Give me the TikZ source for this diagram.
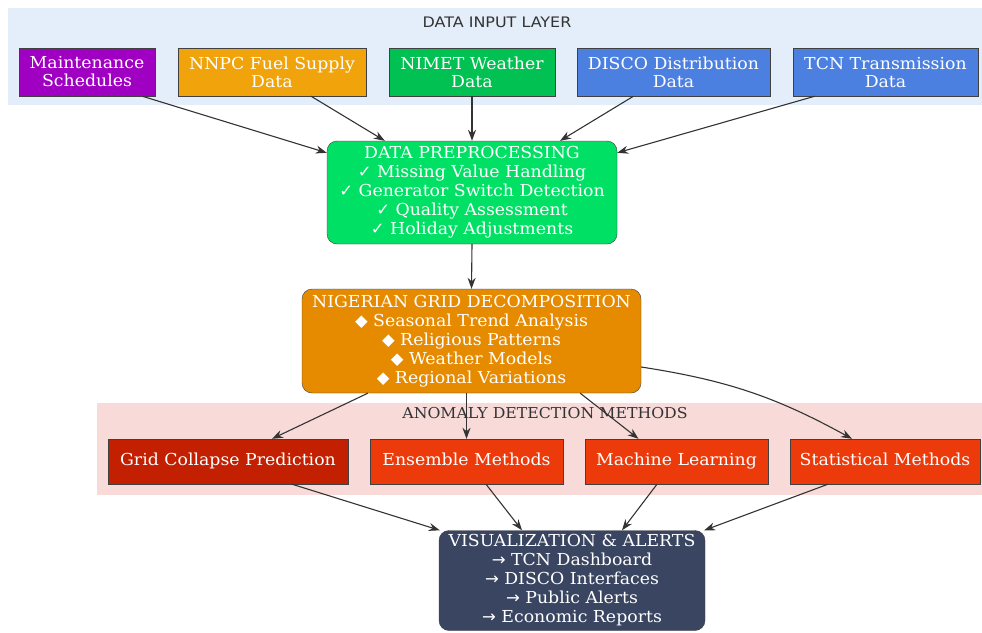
\documentclass[tikz,border=0pt]{standalone}
\usepackage{fontspec}
\setmainfont{DejaVu Serif}[FakeStretch=1.05]
\newfontfamily\symfont{DejaVu Sans}
\newfontfamily\titlefont{DejaVu Sans}[FakeStretch=1.1]
\usetikzlibrary{arrows.meta}
\definecolor{layerblue}{HTML}{E4EEFA}
\definecolor{layerpink}{HTML}{F8DAD8}
\definecolor{maintpurple}{HTML}{A000C2}
\definecolor{fuelorange}{HTML}{F0A30A}
\definecolor{weathergreen}{HTML}{00C152}
\definecolor{gridblue}{HTML}{4C80E0}
\definecolor{prepgreen}{HTML}{00E064}
\definecolor{decomporange}{HTML}{E68A00}
\definecolor{collapsered}{HTML}{C22000}
\definecolor{methodred}{HTML}{EC3A0A}
\definecolor{alertslate}{HTML}{3A4562}
\tikzset{
  src box/.style={draw=black!75, text=white, align=center, inner sep=0pt,
    minimum height=48pt, font=\fontsize{16.5}{18}\selectfont},
  stage box/.style={draw=black!75, text=white, align=center, inner sep=0pt,
    rounded corners=10pt, font=\fontsize{16.5}{19}\selectfont},
  method box/.style={draw=black!75, text=white, align=center, inner sep=0pt,
    minimum height=45pt, text height=12pt, text depth=4pt, font=\fontsize{16.5}{18}\selectfont},
  flow/.style={draw=black!80, line width=1.1pt, -{Stealth[length=11pt,width=8pt]}}
}

\begin{document}
\begin{tikzpicture}[x=1pt, y=-1pt]
\useasboundingbox (0,0) rectangle (982,632);

%layers
\fill[layerblue] (8,8) rectangle (982,105);
\node[font=\titlefont\fontsize{14.5}{16}\selectfont, text=black!80] (inputtitle) at (497,22) {DATA INPUT LAYER};
\fill[layerpink] (97,403) rectangle (982,495);

%data sources
\node[src box, fill=maintpurple, minimum width=136pt] (maint) at (87,72) {Maintenance\\Schedules};
\node[src box, fill=fuelorange, minimum width=188pt] (nnpc) at (272,72) {NNPC Fuel Supply\\Data};
\node[src box, fill=weathergreen, minimum width=166pt] (nimet) at (472,72) {NIMET Weather\\Data};
\node[src box, fill=gridblue, minimum width=193pt] (disco) at (673.5,72) {DISCO Distribution\\Data};
\node[src box, fill=gridblue, minimum width=185pt] (tcn) at (885.5,72) {TCN Transmission\\Data};

%processing stages
\node[stage box, fill=prepgreen, minimum width=290pt, minimum height=103pt] (prep) at (472,192.5)
  {DATA PREPROCESSING\\{\symfont✓} Missing Value Handling\\{\symfont✓} Generator Switch Detection\\{\symfont✓} Quality Assessment\\{\symfont✓} Holiday Adjustments};
\node[stage box, fill=decomporange, minimum width=339pt, minimum height=104pt] (decomp) at (471.5,341)
  {NIGERIAN GRID DECOMPOSITION\\{\symfont◆} Seasonal Trend Analysis\\{\symfont◆} Religious Patterns\\{\symfont◆} Weather Models\\{\symfont◆} Regional Variations};

%methods
\node[method box, fill=collapsered, minimum width=240pt] (collapse) at (228,461.5) {Grid Collapse Prediction};
\node[method box, fill=methodred, minimum width=193pt] (ensemble) at (466.5,461.5) {Ensemble Methods};
\node[method box, fill=methodred, minimum width=183pt] (ml) at (676.5,461.5) {Machine Learning};
\node[method box, fill=methodred, minimum width=190pt] (stat) at (885,461.5) {Statistical Methods};

%output
\node[stage box, fill=alertslate, minimum width=266pt, minimum height=100pt] (alerts) at (572,580.5)
  {VISUALIZATION \& ALERTS\\{\symfont→} TCN Dashboard\\{\symfont→} DISCO Interfaces\\{\symfont→} Public Alerts\\{\symfont→} Economic Reports};

%connectors
\draw[flow] ([xshift=-13pt]maint.south east) -- ([yshift=-12pt]prep.north west);
\draw[flow] ([xshift=39pt]nnpc.south) -- ([xshift=58pt]prep.north west);
\draw[flow] (nimet.south) -- (prep.north);
\draw[flow] ([xshift=-40pt]disco.south) -- ([xshift=88pt]prep.north);
\draw[flow] ([xshift=22pt]tcn.south west) -- ([yshift=-12pt]prep.north east);
\draw[flow] (prep.south) -- (decomp.north);
\draw[flow] ([xshift=66pt]decomp.south west) -- ([xshift=44pt]collapse.north);
\draw[flow] (ensemble.north |- decomp.south) -- (ensemble.north);
\draw[flow] ([xshift=-61pt]decomp.south east) -- ([xshift=-38pt]ml.north);
\draw[flow] ([yshift=-26pt]decomp.east) to[bend left=10] ([xshift=-33pt]stat.north);

\node[font=\fontsize{15}{16}\selectfont, text=black!80] (methodtitle) at (545,413) {ANOMALY DETECTION METHODS};

\draw[flow] ([xshift=64pt]collapse.south) -- ([xshift=1pt]alerts.north west);
\draw[flow] ([xshift=19.5pt]ensemble.south) -- ([xshift=-50pt]alerts.north);
\draw[flow] ([xshift=-19.5pt]ml.south) -- ([xshift=50pt]alerts.north);
\draw[flow] ([xshift=-57pt]stat.south) -- ([xshift=-1pt]alerts.north east);
\end{tikzpicture}
\end{document}
